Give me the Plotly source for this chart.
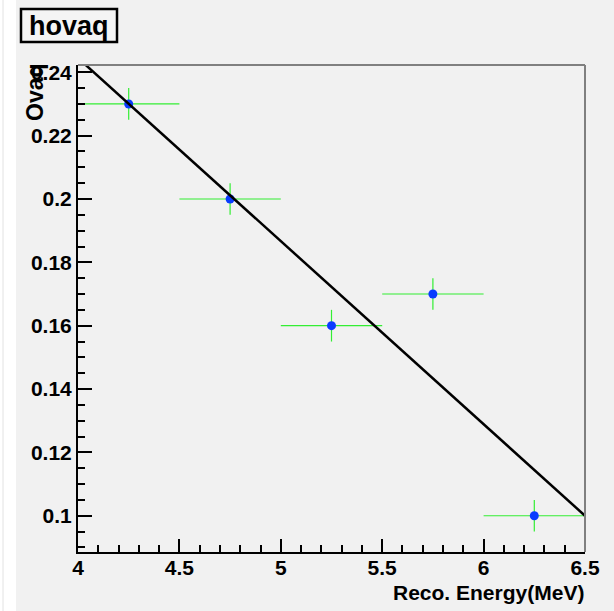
import plotly.graph_objects as go

# Data
energy = [4.25, 4.75, 5.25, 5.75, 6.25]
energy_err = [0.25, 0.25, 0.25, 0.25, 0.25]
ovaq = [0.23, 0.20, 0.16, 0.17, 0.10]
ovaq_err = [0.005, 0.005, 0.005, 0.005, 0.005]
fit_x = [4.0, 6.5]
fit_y = [0.2445, 0.100]
x_ticks = [4, 4.5, 5, 5.5, 6, 6.5]
x_ticklabels = ["4", "4.5", "5", "5.5", "6", "6.5"]
y_ticks = [0.1, 0.12, 0.14, 0.16, 0.18, 0.2, 0.22, 0.24]
y_ticklabels = ["0.1", "0.12", "0.14", "0.16", "0.18", "0.2", "0.22", "0.24"]

W, H = 614, 611
L, R, T, B = 78, 585, 65, 552
pw, ph = R - L, B - T

def px(xp):
    return (xp - L) / pw

def py(yp):
    return (B - yp) / ph

FONT = "Liberation Sans"
BG = "#f1f1f1"

fig = go.Figure()
fig.add_trace(go.Scatter(
    x=energy, y=ovaq, mode="markers",
    marker=dict(color="#0a3cff", size=9),
    error_x=dict(type="data", array=energy_err, color="#33ee33", thickness=1.2, width=0),
    error_y=dict(type="data", array=ovaq_err, color="#33ee33", thickness=1.2, width=0),
    showlegend=False, cliponaxis=False,
))
fig.add_trace(go.Scatter(
    x=fit_x, y=fit_y, mode="lines",
    line=dict(color="black", width=2.5), showlegend=False,
))

tick_font = dict(family=FONT, size=21, color="black", weight="bold")
fig.update_layout(
    width=W, height=H,
    margin=dict(l=L, r=W - R, t=T, b=H - B),
    paper_bgcolor=BG, plot_bgcolor=BG,
    xaxis=dict(
        range=[4.0, 6.5], tickvals=x_ticks, ticktext=x_ticklabels,
        ticks="inside", ticklen=13, tickwidth=2, tickcolor="black",
        showline=True, linecolor="black", linewidth=2,
        showgrid=False, zeroline=False,
        tickfont=tick_font, ticklabelstandoff=-4,
        minor=dict(dtick=0.1, ticks="inside", ticklen=7, tickwidth=2, tickcolor="black", showgrid=False),
    ),
    yaxis=dict(
        range=[0.08855, 0.2423], tickvals=y_ticks, ticktext=y_ticklabels,
        ticks="inside", ticklen=14, tickwidth=2, tickcolor="black",
        showline=True, linecolor="black", linewidth=2,
        showgrid=False, zeroline=False,
        tickfont=tick_font,
        minor=dict(dtick=0.005, ticks="inside", ticklen=7, tickwidth=2, tickcolor="black", showgrid=False),
    ),
    font=dict(family=FONT, color="black"),
)

shapes = [
    # white strip at left
    dict(type="rect", xref="paper", yref="paper", x0=px(0), x1=px(16), y0=py(H), y1=py(0),
         fillcolor="white", line=dict(width=0), layer="below"),
    dict(type="line", xref="paper", yref="paper", x0=px(3), x1=px(3), y0=py(H), y1=py(0),
         line=dict(color="#e2e2e2", width=1), layer="below"),
    # top & right frame (grey)
    dict(type="line", xref="paper", yref="paper", x0=0, x1=1, y0=1, y1=1,
         line=dict(color="#808080", width=2)),
    dict(type="line", xref="paper", yref="paper", x0=1, x1=1, y0=0, y1=1,
         line=dict(color="#808080", width=2)),
    # title box
    dict(type="rect", xref="paper", yref="paper", x0=px(21), x1=px(117), y0=py(42), y1=py(9),
         fillcolor="#f4f4f4", line=dict(color="black", width=2.5)),
]
fig.update_layout(shapes=shapes)

annotations = [
    dict(text="<b>hovaq</b>", xref="paper", yref="paper", x=px(69), y=py(26),
         xanchor="center", yanchor="middle", showarrow=False,
         font=dict(family=FONT, size=27, color="black")),
    dict(text="<b>Reco. Energy(MeV)</b>", xref="paper", yref="paper", x=px(586), y=py(592),
         xanchor="right", yanchor="middle", showarrow=False,
         font=dict(family=FONT, size=21, color="black")),
    dict(text="<b>Ovaq</b>", xref="paper", yref="paper", x=px(35), y=py(92),
         xanchor="center", yanchor="middle", showarrow=False, textangle=-90,
         font=dict(family=FONT, size=23, color="black")),
]
fig.update_layout(annotations=annotations)

fig.write_html("out.html")
